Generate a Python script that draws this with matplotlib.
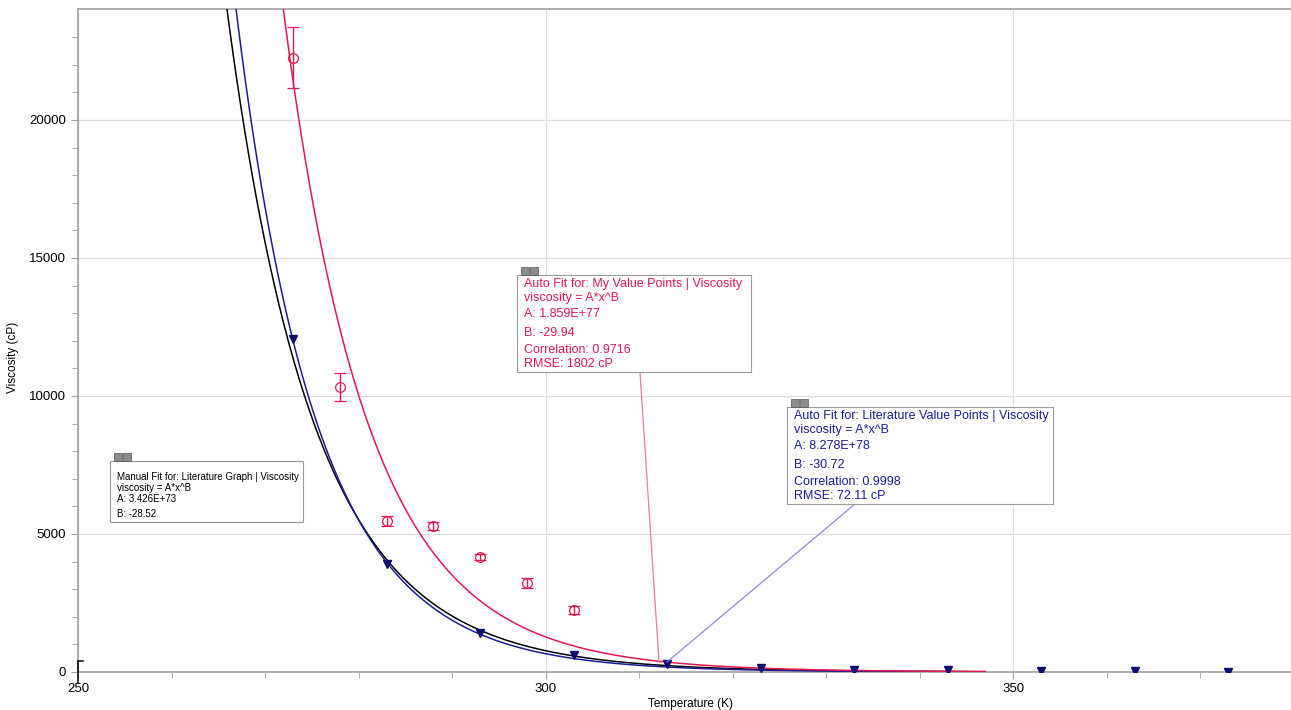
import numpy as np
import matplotlib
matplotlib.use("Agg")
import matplotlib.pyplot as plt
from matplotlib.patches import Rectangle
from matplotlib.lines import Line2D

plt.rcParams['font.family'] = ['Liberation Sans', 'DejaVu Sans']

# measured values (my points)
my_temp = [273, 278, 283, 288, 293, 298, 303]
my_visc = [22250, 10330, 5470, 5290, 4170, 3225, 2245]
my_err = [1100, 500, 180, 150, 120, 170, 130]

# literature values
lit_temp = [273, 283, 293, 303, 313, 323, 333, 343, 353, 363, 373]
lit_visc = [12060, 3910, 1410, 610, 300, 150, 90, 55, 35, 20, 15]

# power-law fits  viscosity = A*x^B
fit_manual = (3.426e73, -28.52)
fit_lit = (8.278e78, -30.72)
fit_my = (1.859e77, -29.94)

W, H = 1291, 710
RED = '#e5174f'
NAVY = '#1c1c96'
GRAY = '#a0a0a0'


def fx(x):
    return x / W


def fy(y):
    return 1 - y / H


def power(p, t):
    # evaluate in log space, the constants are huge
    return np.exp(np.log(p[0]) + p[1] * np.log(t))


def fit_box(fig, x0, y0, x1, y1, lines, ys, color, size):
    fig.add_artist(Rectangle((fx(x0), fy(y1)), fx(x1 - x0), (y1 - y0) / H,
                             transform=fig.transFigure, fc='white', ec='#9a9a9a', lw=0.8, zorder=5))
    # close / minimize icons
    for k in range(2):
        fig.add_artist(Rectangle((fx(x0 + 4 + k * 9), fy(y0)), fx(8), 8 / H,
                                 transform=fig.transFigure, fc='#8c8c8c', ec='#555555', lw=0.5, zorder=6))
    for txt, yy in zip(lines, ys):
        fig.text(fx(x0 + 7), fy(yy), txt, color=color, fontsize=size, va='center', ha='left', zorder=7)


fig = plt.figure(figsize=(W / 100, H / 100), dpi=100)
ax = fig.add_axes([fx(78), fy(672), fx(1291 - 78), (672 - 9) / H])

t = np.linspace(262, 347, 800)
ax.plot(t, power(fit_manual, t), color='black', lw=1.1, zorder=3)
ax.plot(t, power(fit_lit, t), color=NAVY, lw=1.1, zorder=3)
ax.plot(t, power(fit_my, t), color=RED, lw=1.1, zorder=3)

ax.errorbar(my_temp, my_visc, yerr=my_err, fmt='o', mfc='none', mec=RED, ecolor=RED,
            ms=7, mew=0.9, elinewidth=1.0, capsize=4, capthick=1.0, zorder=4)
ax.plot(lit_temp, lit_visc, 'v', color='#0b0b70', ms=6, zorder=4)

ax.set_xlim(250, 379.7)
ax.set_ylim(0, 24020)
ax.set_xticks([250, 300, 350])
ax.set_xticks(np.arange(260, 380, 10), minor=True)
ax.set_yticks(np.arange(0, 24000, 5000))
ax.set_yticks(np.arange(1000, 24000, 1000), minor=True)
ax.grid(True, which='major', color='#dcdcdc', lw=0.9)
ax.set_axisbelow(True)
for s in ['left', 'bottom', 'top']:
    ax.spines[s].set_color(GRAY)
    ax.spines[s].set_linewidth(1.2)
ax.spines['right'].set_visible(False)
ax.tick_params(which='both', colors=GRAY, labelcolor='black', labelsize=9.5)
ax.tick_params(which='major', length=5)
ax.tick_params(which='minor', length=4)
ax.tick_params(axis='x', pad=3)

# axis titles placed where the reference has them
fig.text(fx(690), fy(704), 'Temperature (K)', fontsize=8.5, ha='center', va='center')
fig.text(fx(13), fy(357), 'Viscosity (cP)', fontsize=8.5, ha='center', va='center', rotation=90)

# origin bracket
fig.add_artist(Line2D([fx(78), fx(78)], [fy(683), fy(661)], transform=fig.transFigure, color='black', lw=1.1))
fig.add_artist(Line2D([fx(78), fx(83)], [fy(661), fy(661)], transform=fig.transFigure, color='black', lw=1.1))

# leader lines from the fit boxes
fig.add_artist(Line2D([fx(640), fx(659)], [fy(372), fy(662)], transform=fig.transFigure,
                      color='#f07a98', lw=0.9, zorder=4))
fig.add_artist(Line2D([fx(855), fx(667)], [fy(504), fy(662)], transform=fig.transFigure,
                      color='#8a8ad8', lw=0.9, zorder=4))

fit_box(fig, 110, 461, 303, 522,
        ['Manual Fit for: Literature Graph | Viscosity', 'viscosity = A*x^B',
         'A: %.3E' % fit_manual[0], 'B: %.2f' % fit_manual[1]],
        [477, 488, 499, 514], 'black', 7)
fit_box(fig, 517, 275, 751, 372,
        ['Auto Fit for: My Value Points | Viscosity', 'viscosity = A*x^B',
         'A: %.3E' % fit_my[0], 'B: %.2f' % fit_my[1],
         'Correlation: 0.9716', 'RMSE: 1802 cP'],
        [284, 298, 314, 333, 350, 364], RED, 9)
fit_box(fig, 787, 407, 1053, 504,
        ['Auto Fit for: Literature Value Points | Viscosity', 'viscosity = A*x^B',
         'A: %.3E' % fit_lit[0], 'B: %.2f' % fit_lit[1],
         'Correlation: 0.9998', 'RMSE: 72.11 cP'],
        [416, 430, 446, 465, 482, 496], NAVY, 9)

plt.savefig('out.png', dpi=100)
plt.close()
